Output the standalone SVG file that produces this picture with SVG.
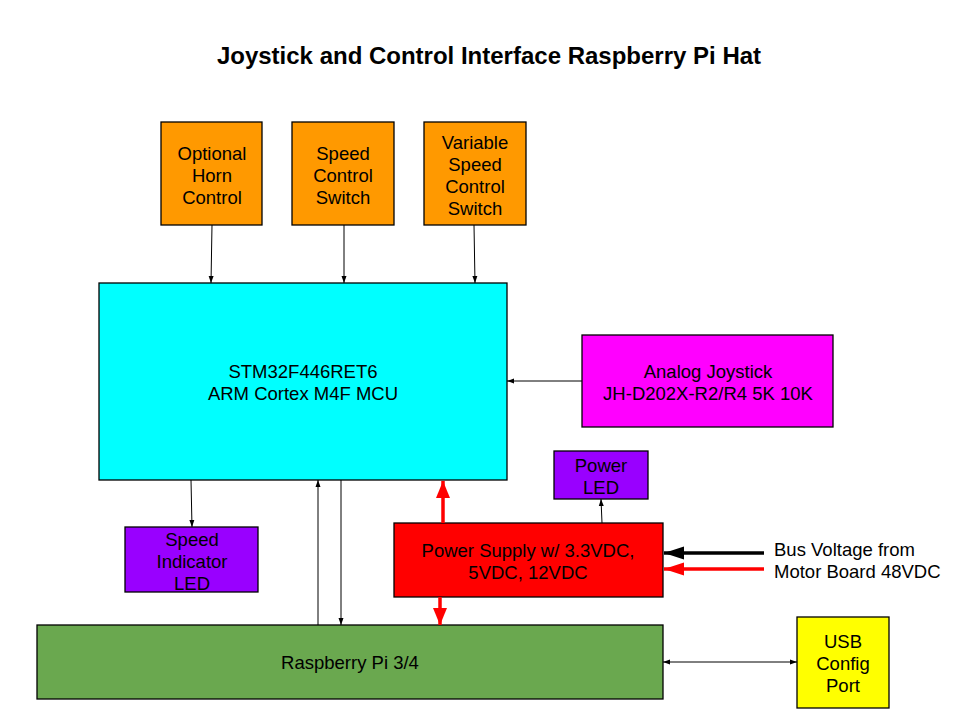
<svg xmlns="http://www.w3.org/2000/svg" width="960" height="720" viewBox="0 0 960 720">
<defs>
<style>
.box{stroke:#000;stroke-width:1.3}
.t{font-family:"Liberation Sans",Arial,sans-serif;font-size:18.5px;fill:#000;text-anchor:middle}
.thin{stroke:#000;stroke-width:1;fill:none}
.thick{stroke-width:3.5;fill:none}
</style>
<marker id="ah" markerUnits="userSpaceOnUse" markerWidth="8" markerHeight="8" viewBox="0 0 8 8" refX="7" refY="4" orient="auto-start-reverse">
<path d="M0,1.5 L7,4 L0,6.5 Z" fill="#000"/>
</marker>
<marker id="rh" markerUnits="userSpaceOnUse" markerWidth="18" markerHeight="16" viewBox="0 0 18 16" refX="17" refY="8" orient="auto">
<path d="M0,1 L17,8 L0,15 Z" fill="#f00"/>
</marker>
<marker id="bh" markerUnits="userSpaceOnUse" markerWidth="21" markerHeight="14" viewBox="0 0 21 14" refX="20" refY="7" orient="auto">
<path d="M0,0.5 L20,7 L0,13.5 Z" fill="#000"/>
</marker>
<marker id="rh2" markerUnits="userSpaceOnUse" markerWidth="21" markerHeight="14" viewBox="0 0 21 14" refX="20" refY="7" orient="auto">
<path d="M0,0.5 L20,7 L0,13.5 Z" fill="#f00"/>
</marker>
</defs>
<rect width="960" height="720" fill="#fff"/>
<text x="489" y="63.5" style="font-family:'Liberation Sans',Arial,sans-serif;font-size:24px;font-weight:bold;text-anchor:middle">Joystick and Control Interface Raspberry Pi Hat</text>

<g id="horn">
<rect class="box" x="161" y="122" width="101" height="103" fill="#ff9900"/>
<text class="t" x="212" y="159.5">Optional</text>
<text class="t" x="212" y="181.5">Horn</text>
<text class="t" x="212" y="203.5">Control</text>
</g>
<g id="speed-switch">
<rect class="box" x="292" y="122" width="102" height="103" fill="#ff9900"/>
<text class="t" x="343" y="159.5">Speed</text>
<text class="t" x="343" y="181.5">Control</text>
<text class="t" x="343" y="203.5">Switch</text>
</g>
<g id="var-speed">
<rect class="box" x="424" y="122" width="102" height="103" fill="#ff9900"/>
<text class="t" x="475" y="148.5">Variable</text>
<text class="t" x="475" y="170.5">Speed</text>
<text class="t" x="475" y="192.5">Control</text>
<text class="t" x="475" y="214.5">Switch</text>
</g>
<g id="mcu">
<rect class="box" x="99" y="283" width="408" height="197" fill="#00ffff"/>
<text class="t" x="303" y="377.5">STM32F446RET6</text>
<text class="t" x="303" y="399.5">ARM Cortex M4F MCU</text>
</g>
<g id="joystick">
<rect class="box" x="582" y="335" width="251" height="92" fill="#ff00ff"/>
<text class="t" x="708" y="377.5">Analog Joystick</text>
<text class="t" x="708" y="399.5">JH-D202X-R2/R4 5K 10K</text>
</g>
<g id="power-led">
<rect class="box" x="554" y="451" width="94" height="48" fill="#9900ff"/>
<text class="t" x="601" y="471.5">Power</text>
<text class="t" x="601" y="493.5">LED</text>
</g>
<g id="speed-led">
<rect class="box" x="125" y="527" width="133" height="65" fill="#9900ff"/>
<text class="t" x="192" y="545.5">Speed</text>
<text class="t" x="192" y="567.5">Indicator</text>
<text class="t" x="192" y="589.5">LED</text>
</g>
<g id="power-supply">
<rect class="box" x="394" y="523" width="269" height="74" fill="#ff0000"/>
<text class="t" x="528" y="556.5">Power Supply w/ 3.3VDC,</text>
<text class="t" x="528" y="578.5">5VDC, 12VDC</text>
</g>
<g id="rpi">
<rect class="box" x="37" y="625" width="626" height="74" fill="#6aa84f"/>
<text class="t" x="350" y="668.5">Raspberry Pi 3/4</text>
</g>
<g id="usb">
<rect class="box" x="797" y="617" width="92" height="91" fill="#ffff00"/>
<text class="t" x="843" y="647.5">USB</text>
<text class="t" x="843" y="669.5">Config</text>
<text class="t" x="843" y="691.5">Port</text>
</g>
<g id="bus-label">
<text x="774" y="555.5" style="font-family:'Liberation Sans',Arial,sans-serif;font-size:18.5px">Bus Voltage from</text>
<text x="774" y="577.5" style="font-family:'Liberation Sans',Arial,sans-serif;font-size:18.5px">Motor Board 48VDC</text>
</g>

<g id="connectors">
<line class="thin" x1="212" y1="225" x2="211" y2="283" marker-end="url(#ah)"/>
<line class="thin" x1="344" y1="225" x2="344" y2="283" marker-end="url(#ah)"/>
<line class="thin" x1="474" y1="225" x2="475" y2="283" marker-end="url(#ah)"/>
<line class="thin" x1="582" y1="381" x2="507" y2="381" marker-end="url(#ah)"/>
<line class="thin" x1="191" y1="480" x2="192" y2="527" marker-end="url(#ah)"/>
<line class="thin" x1="318" y1="625" x2="318" y2="480" marker-end="url(#ah)"/>
<line class="thin" x1="341" y1="480" x2="341" y2="625" marker-end="url(#ah)"/>
<line class="thin" x1="602" y1="523" x2="601" y2="499" marker-end="url(#ah)"/>
<line class="thin" x1="663" y1="662" x2="797" y2="662" marker-start="url(#ah)" marker-end="url(#ah)"/>
<line class="thick" stroke="#f00" x1="443" y1="523" x2="443" y2="481" marker-end="url(#rh)"/>
<line class="thick" stroke="#f00" x1="440" y1="597" x2="440" y2="625" marker-end="url(#rh)"/>
<line class="thick" stroke="#000" x1="764" y1="553" x2="664" y2="553" marker-end="url(#bh)"/>
<line class="thick" stroke="#f00" x1="764" y1="569" x2="664" y2="569" marker-end="url(#rh2)"/>
</g>
</svg>
